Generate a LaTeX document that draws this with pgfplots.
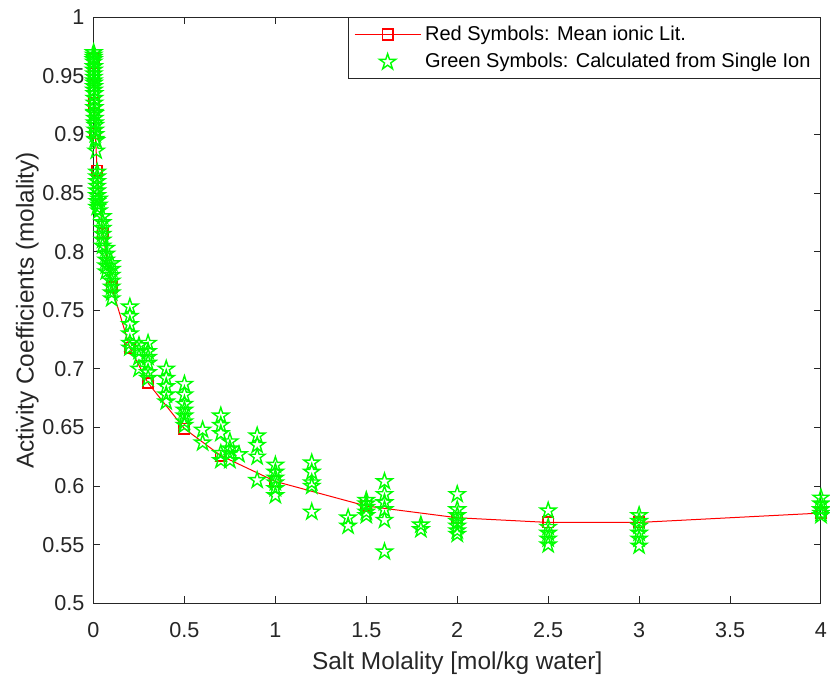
\documentclass[border=0pt]{standalone}
\usepackage{fontspec}
\setmainfont{Liberation Sans}
\usepackage{pgfplots}
\pgfplotsset{compat=1.18}
\definecolor{axisgray}{rgb}{0.15,0.15,0.15}
\definecolor{mred}{rgb}{1,0,0}
\definecolor{mgreen}{rgb}{0,1,0}
\pgfdeclareplotmark{pentastar}{%
  \pgfpathmoveto{\pgfqpointpolar{90}{\pgfplotmarksize}}%
  \pgfpathlineto{\pgfqpointpolar{126}{0.382\pgfplotmarksize}}%
  \pgfpathlineto{\pgfqpointpolar{162}{\pgfplotmarksize}}%
  \pgfpathlineto{\pgfqpointpolar{198}{0.382\pgfplotmarksize}}%
  \pgfpathlineto{\pgfqpointpolar{234}{\pgfplotmarksize}}%
  \pgfpathlineto{\pgfqpointpolar{270}{0.382\pgfplotmarksize}}%
  \pgfpathlineto{\pgfqpointpolar{306}{\pgfplotmarksize}}%
  \pgfpathlineto{\pgfqpointpolar{342}{0.382\pgfplotmarksize}}%
  \pgfpathlineto{\pgfqpointpolar{18}{\pgfplotmarksize}}%
  \pgfpathlineto{\pgfqpointpolar{54}{0.382\pgfplotmarksize}}%
  \pgfpathclose
  \pgfusepathqstroke}
\pgfdeclareplotmark{opensquare}{%
  \pgfpathrectangle{\pgfqpoint{-\pgfplotmarksize}{-\pgfplotmarksize}}{\pgfqpoint{2\pgfplotmarksize}{2\pgfplotmarksize}}%
  \pgfusepathqstroke}
\pgfplotsset{
  redlegend/.style={legend image code/.code={\draw[mark repeat=2,mark phase=2,#1] plot coordinates {(0pt,0pt)(16.5pt,0pt)(33pt,0pt)};}},
  greenlegend/.style={legend image code/.code={\draw[#1] plot coordinates {(16.5pt,0pt)};}},
}
\begin{document}
\begin{tikzpicture}
\useasboundingbox (-46.75pt,-38.85pt) rectangle (368.25pt,301.65pt);
\begin{axis}[
  at={(0,0)}, anchor=south west,
  scale only axis, width=363.75pt, height=293pt,
  xmin=0, xmax=4, ymin=0.5, ymax=1,
  xtick={0,0.5,1,1.5,2,2.5,3,3.5,4},
  ytick={0.5,0.55,0.6,0.65,0.7,0.75,0.8,0.85,0.9,0.95,1},
  tick align=inside, major tick length=3.5pt,
  axis line style={draw=axisgray, line width=0.5pt},
  every tick/.style={axisgray, line width=0.5pt},
  /pgf/number format/assume math mode=true,
  tick label style={font=\fontsize{10.8}{12}\selectfont, text=axisgray},
  xticklabel shift=6pt,
  yticklabel shift=1pt,
  label style={font=\fontsize{12.2}{14}\selectfont, text=axisgray},
  ylabel style={yshift=-5pt},
  xlabel={Salt Molality [mol/kg water]},
  ylabel={Activity Coefficients (molality)},
  legend style={at={(1,1)}, anchor=north east, draw=axisgray, line width=0.5pt,
    font=\fontsize{10}{11.5}\selectfont, text=black, legend cell align=left,
    inner xsep=3pt, inner ysep=2pt, row sep=1pt},
]
\addplot[color=mred, line width=0.5pt, mark=opensquare, mark size=2.6pt,
  mark options={solid, color=mred, line width=0.85pt}, redlegend]
coordinates {
(0.001,0.965)(0.002,0.952)(0.005,0.927)(0.01,0.901)(0.02,0.869)(0.05,0.816)
(0.1,0.770)(0.2,0.718)(0.3,0.688)(0.5,0.649)(0.7,0.626)(1.0,0.604)(1.5,0.583)
(2.0,0.573)(2.5,0.569)(3.0,0.569)(4.0,0.577)};
\addlegendentry{Red Symbols: Mean ionic Lit.}
\addplot[only marks, mgreen, mark=pentastar, mark size=4.2pt,
  mark options={draw=mgreen, line width=0.7pt, fill=none}, greenlegend]
coordinates {
(0.001,0.970)(0.001,0.968)(0.001,0.966)(0.001,0.964)(0.001,0.962)
(0.002,0.958)(0.002,0.955)(0.002,0.952)(0.002,0.949)(0.002,0.946)
(0.003,0.944)(0.003,0.941)(0.003,0.938)
(0.005,0.935)(0.005,0.931)(0.005,0.927)(0.005,0.923)(0.005,0.919)
(0.007,0.918)(0.007,0.914)(0.007,0.910)
(0.01,0.908)(0.01,0.904)(0.01,0.900)(0.01,0.896)(0.015,0.895)(0.015,0.886)
(0.02,0.868)(0.02,0.864)(0.02,0.860)(0.02,0.856)(0.02,0.852)(0.02,0.848)(0.02,0.843)(0.02,0.838)
(0.03,0.845)(0.03,0.840)(0.03,0.835)
(0.05,0.830)(0.05,0.825)(0.05,0.820)(0.05,0.815)(0.05,0.810)(0.05,0.805)
(0.07,0.803)(0.07,0.798)(0.07,0.793)(0.07,0.788)(0.07,0.783)
(0.1,0.790)(0.1,0.785)(0.1,0.780)(0.1,0.775)(0.1,0.770)(0.1,0.765)(0.1,0.760)
(0.2,0.753)(0.2,0.745)(0.2,0.738)(0.2,0.730)(0.2,0.722)(0.2,0.718)
(0.25,0.720)(0.25,0.715)(0.25,0.710)(0.25,0.700)
(0.3,0.722)(0.3,0.715)(0.3,0.710)(0.3,0.705)(0.3,0.697)(0.3,0.692)
(0.4,0.700)(0.4,0.692)(0.4,0.685)(0.4,0.678)(0.4,0.672)
(0.5,0.687)(0.5,0.678)(0.5,0.670)(0.5,0.665)(0.5,0.660)(0.5,0.655)(0.5,0.652)
(0.6,0.648)(0.6,0.637)
(0.7,0.660)(0.7,0.652)(0.7,0.645)(0.7,0.628)(0.7,0.622)
(0.75,0.638)(0.75,0.632)(0.75,0.628)(0.75,0.622)
(0.8,0.627)
(0.9,0.643)(0.9,0.635)(0.9,0.625)(0.9,0.605)
(1.0,0.618)(1.0,0.612)(1.0,0.607)(1.0,0.603)(1.0,0.598)(1.0,0.592)
(1.2,0.620)(1.2,0.612)(1.2,0.603)(1.2,0.600)(1.2,0.578)
(1.4,0.573)(1.4,0.566)
(1.5,0.588)(1.5,0.585)(1.5,0.582)(1.5,0.578)(1.5,0.575)
(1.6,0.604)(1.6,0.593)(1.6,0.586)(1.6,0.580)(1.6,0.571)(1.6,0.544)
(1.8,0.567)(1.8,0.563)
(2.0,0.593)(2.0,0.580)(2.0,0.575)(2.0,0.570)(2.0,0.566)(2.0,0.562)(2.0,0.559)
(2.5,0.579)(2.5,0.565)(2.5,0.560)(2.5,0.555)(2.5,0.550)
(3.0,0.575)(3.0,0.570)(3.0,0.566)(3.0,0.560)(3.0,0.555)(3.0,0.549)
(4.0,0.590)(4.0,0.585)(4.0,0.580)(4.0,0.577)(4.0,0.575)};
\addlegendentry{Green Symbols: Calculated from Single Ion}
\end{axis}
\end{tikzpicture}
\end{document}
